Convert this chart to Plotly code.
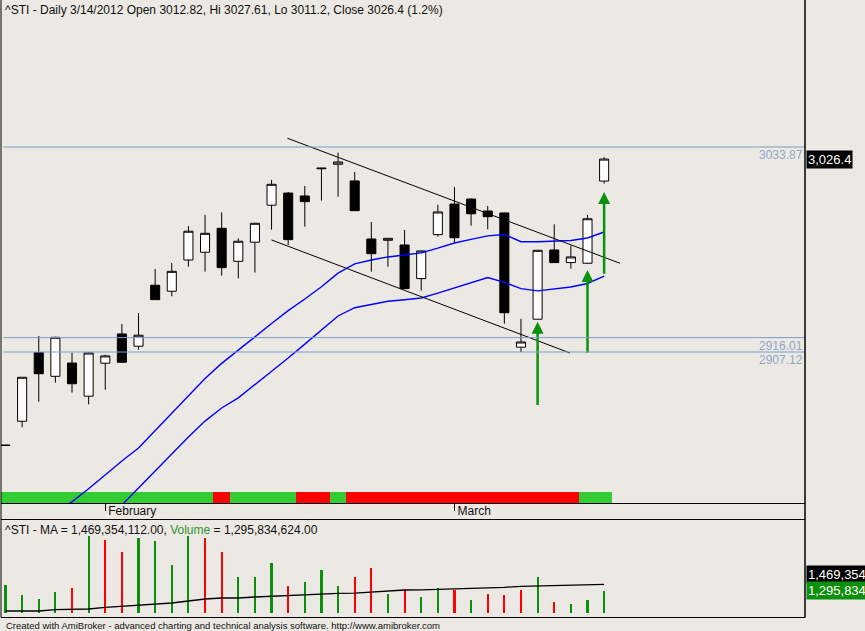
import plotly.graph_objects as go

# ---- data ----
days = list(range(37))
month_ticks = [6, 27]
month_labels = ["February", "March"]

opens = [2849.3, 2864.3, 2906.7, 2892.1, 2900.3, 2879.8, 2900.2, 2918.3, 2910.7, 2948.4,
         2944.7, 2964.0, 2968.8, 2983.6, 2963.2, 2975.0, 2997.9, 3005.4, 3003.6, 3020.9,
         3023.2, 3012.9, 2977.0, 2976.2, 2973.3, 2952.5, 2979.7, 2998.6, 3001.7, 2994.3,
         2993.1, 2910.1, 2927.4, 2970.2, 2962.4, 2962.0, 3012.82]
highs = [2849.6, 2891.5, 2917.0, 2916.5, 2906.7, 2906.8, 2905.5, 2924.4, 2931.3, 2958.4,
         2962.2, 2985.0, 2991.9, 2993.5, 2977.4, 2987.0, 3013.5, 3006.0, 3009.8, 3021.0,
         3030.4, 3018.4, 2987.5, 2977.6, 2982.6, 2970.0, 2998.2, 3009.1, 3002.0, 2997.4,
         2993.5, 2927.6, 2970.2, 2986.1, 2972.9, 2991.9, 3027.61]
lows = [2849.2, 2860.6, 2876.4, 2888.2, 2882.0, 2874.8, 2883.8, 2900.5, 2908.6, 2939.3,
        2941.6, 2959.9, 2956.8, 2954.3, 2952.7, 2956.2, 2982.8, 2973.3, 2984.6, 3000.7,
        3003.1, 2994.3, 2956.8, 2959.9, 2946.0, 2945.1, 2978.4, 2974.7, 2985.2, 2983.0,
        2924.6, 2907.12, 2927.2, 2962.2, 2958.6, 2961.8, 3011.2]
closes = [2849.5, 2891.5, 2893.7, 2916.2, 2887.5, 2906.5, 2904.7, 2900.8, 2917.5, 2939.5,
          2957.0, 2981.8, 2980.5, 2959.3, 2975.6, 2986.7, 3010.8, 2976.6, 3000.1, 3020.5,
          3024.6, 2994.5, 2967.9, 2977.4, 2946.3, 2969.6, 2993.7, 2977.8, 2992.6, 2990.8,
          2931.4, 2913.3, 2970.0, 2962.4, 2965.9, 2989.5, 3026.4]

ma_fast = [None, None, None, 2809.0, 2814.5, 2822.6, 2831.4, 2839.7, 2847.8, 2858.4,
           2869.1, 2879.8, 2890.7, 2900.1, 2908.1, 2916.5, 2924.7, 2932.7, 2939.9, 2947.5,
           2955.9, 2961.6, 2964.0, 2965.9, 2967.1, 2968.4, 2971.3, 2974.5, 2976.8, 2978.9,
           2979.8, 2975.3, 2975.3, 2975.8, 2976.1, 2977.6, 2981.3]
ma_slow = [None, None, None, None, None, None, 2800.0, 2812.5, 2823.1, 2833.6,
           2844.3, 2854.6, 2864.4, 2872.5, 2878.8, 2886.9, 2895.2, 2903.4, 2912.0, 2920.9,
           2929.4, 2934.5, 2936.7, 2938.5, 2939.4, 2940.5, 2943.5, 2946.7, 2949.9, 2953.2,
           2950.2, 2946.3, 2944.9, 2946.1, 2947.3, 2949.5, 2954.1]

trend_upper_x = [16.95, 36.95]
trend_upper_y = [3039.3, 2962.0]
trend_lower_x = [16.0, 33.95]
trend_lower_y = [2976.4, 2906.5]

levels = [3033.87, 2916.01, 2907.12]

signal_days = [32, 35, 36]
signal_tip = [2925.9, 2957.8, 3006.0]
signal_tail = [2874.4, 2906.7, 2955.5]

# 1 = green, 0 = red
ribbon_state = [1] * 13 + [0] + [1] * 4 + [0, 0] + [1] + [0] * 14 + [1, 1]

volume_m = [1478, 1144, 1052, 1265, 1357, 2970, 2848, 2483, 2909, 2818,
            2087, 2970, 2909, 2483, 1692, 1692, 2127, 1448, 1548, 1935,
            1448, 1722, 1966, 1204, 1296, 1083, 1387, 1317, 1022, 1204,
            1144, 1296, 1692, 961, 870, 1022, 1295.834624]
volume_ma_m = [656.6, 656.6, 656.6, 696.2, 696.2, 717.5, 769.2, 799.6, 839.2, 869.7,
               900.1, 961.0, 1021.9, 1052.3, 1052.3, 1082.7, 1104.1, 1143.6, 1145.0, 1164.9,
               1195.4, 1200.0, 1235.0, 1265.4, 1295.8, 1300.0, 1317.1, 1320.0, 1347.6, 1350.0,
               1378.0, 1408.5, 1417.6, 1438.9, 1442.0, 1465.0, 1469.354112]

volume = [v * 1e6 for v in volume_m]
volume_ma = [v * 1e6 for v in volume_ma_m]

# ---- styles ----
BG = "#ECE9E4"
GREEN = "#0A900A"
RIBBON_GREEN = "#33CC33"
RED = "#FF0000"
LEVEL = "#7B9CC9"
FONT = "Liberation Sans, Arial, sans-serif"

vol_colors = [GREEN] + [GREEN if closes[i] >= closes[i - 1] else RED for i in range(1, len(closes))]

fig = go.Figure()

# colour ribbon at the bottom of the price pane
fig.add_trace(go.Bar(
    x=days, y=[1] * len(days), width=1,
    marker=dict(color=[RIBBON_GREEN if s else RED for s in ribbon_state], line=dict(width=0)),
    xaxis="x", yaxis="y", showlegend=False, hoverinfo="skip",
))

fig.add_trace(go.Candlestick(
    x=days, open=opens, high=highs, low=lows, close=closes,
    increasing=dict(fillcolor="white", line=dict(color="black", width=1)),
    decreasing=dict(fillcolor="black", line=dict(color="black", width=1)),
    whiskerwidth=0,
    xaxis="x", yaxis="y2", showlegend=False, hoverinfo="skip",
))

for ma in (ma_fast, ma_slow):
    fig.add_trace(go.Scatter(
        x=days, y=ma, mode="lines", line=dict(color="#0000FF", width=1.4),
        xaxis="x", yaxis="y2", showlegend=False, hoverinfo="skip",
    ))

for tx, ty in ((trend_upper_x, trend_upper_y), (trend_lower_x, trend_lower_y)):
    fig.add_trace(go.Scatter(
        x=tx, y=ty, mode="lines", line=dict(color="black", width=1),
        xaxis="x", yaxis="y2", showlegend=False, hoverinfo="skip",
    ))

# green up arrows
shaft_x, shaft_y = [], []
for d, top, tail in zip(signal_days, signal_tip, signal_tail):
    shaft_x += [d, d, None]
    shaft_y += [top - 4, tail, None]
fig.add_trace(go.Scatter(
    x=shaft_x, y=shaft_y, mode="lines", line=dict(color=GREEN, width=2.5),
    xaxis="x", yaxis="y2", showlegend=False, hoverinfo="skip",
))
fig.add_trace(go.Scatter(
    x=signal_days, y=signal_tip, mode="markers",
    marker=dict(symbol="arrow-up", size=12, color=GREEN, line=dict(width=0)),
    xaxis="x", yaxis="y2", showlegend=False, hoverinfo="skip",
))

# volume pane
fig.add_trace(go.Bar(
    x=days, y=volume, width=0.13, marker=dict(color=vol_colors, line=dict(width=0)),
    xaxis="x2", yaxis="y3", showlegend=False, hoverinfo="skip",
))
fig.add_trace(go.Scatter(
    x=days, y=volume_ma, mode="lines", line=dict(color="black", width=1.3),
    xaxis="x2", yaxis="y3", showlegend=False, hoverinfo="skip",
))

H = 618.0  # plot area height in px
def py(px):
    return (H - px) / H

xrange_ = [-0.27, 48.08]
price_range = [2813.76, 3124.76]
vol_range = [595.7e6, 3441.9e6]

shapes = []
for lv in levels:
    shapes.append(dict(type="line", xref="paper", x0=0.003, x1=1, yref="y2", y0=lv, y1=lv,
                       line=dict(color=LEVEL, width=1), layer="above"))
# pane frames
shapes.append(dict(type="line", xref="paper", yref="paper", x0=0, x1=0, y0=py(617.5), y1=1,
                   line=dict(color="black", width=1)))
shapes.append(dict(type="line", xref="paper", yref="paper", x0=1, x1=1, y0=py(617.5), y1=1,
                   line=dict(color="black", width=1.5)))
shapes.append(dict(type="line", xref="paper", yref="paper", x0=0, x1=1, y0=py(519.5), y1=py(519.5),
                   line=dict(color="black", width=1)))
shapes.append(dict(type="line", xref="paper", yref="paper", x0=0, x1=1, y0=py(617.5), y1=py(617.5),
                   line=dict(color="black", width=1)))

annotations = [
    dict(xref="paper", yref="paper", x=0, y=1, xanchor="left", yanchor="top", xshift=2, yshift=-1,
         showarrow=False, font=dict(size=12, color="#101010"),
         text="^STI - Daily 3/14/2012 Open {}, Hi {}, Lo {}, Close {} (1.2%)".format(
             opens[-1], highs[-1], lows[-1], closes[-1])),
    dict(xref="paper", yref="paper", x=0, y=py(519.5), xanchor="left", yanchor="top", xshift=2, yshift=-1,
         showarrow=False, font=dict(size=12, color="#101010"),
         text="^STI - MA = {:,.2f}, <span style='color:#2E962E'>Volume</span> = {:,.2f}".format(
             volume_ma[-1], volume[-1])),
    dict(xref="paper", yref="paper", x=0, y=py(625), xanchor="left", yanchor="middle", xshift=3,
         showarrow=False, font=dict(size=9.5, color="#101010"),
         text="Created with AmiBroker - advanced charting and technical analysis software. http://www.amibroker.com"),
    dict(xref="paper", yref="y2", x=1, y=closes[-1], xanchor="left", yanchor="middle", xshift=1,
         showarrow=False, bgcolor="black", borderpad=1, font=dict(size=13, color="white"),
         text="{:,.1f}".format(closes[-1])),
    dict(xref="paper", yref="y3", x=1, y=volume_ma[-1], xanchor="left", yanchor="middle", xshift=1, yshift=10,
         showarrow=False, bgcolor="black", borderpad=1, font=dict(size=13, color="white"),
         text="{:,.0f}".format(volume_ma[-1])),
    dict(xref="paper", yref="y3", x=1, y=volume[-1], xanchor="left", yanchor="middle", xshift=1,
         showarrow=False, bgcolor=GREEN, borderpad=1, font=dict(size=13, color="white"),
         text="{:,.0f}".format(volume[-1])),
]
for lv in levels:
    annotations.append(dict(xref="paper", yref="y2", x=1, y=lv, xanchor="right", yanchor="top",
                            xshift=-1, showarrow=False, borderpad=0,
                            font=dict(size=12, color="#8FA6C8"), text="{:.2f}".format(lv)))

fig.update_layout(
    width=865, height=631,
    margin=dict(l=1, r=60, t=0, b=13),
    paper_bgcolor=BG, plot_bgcolor=BG,
    font=dict(family=FONT, size=12, color="black"),
    showlegend=False, dragmode=False, bargap=0, boxgap=0.22,
    xaxis=dict(range=xrange_, anchor="y", showgrid=False, zeroline=False,
               showline=True, linecolor="black", linewidth=1,
               tickmode="array", tickvals=month_ticks, ticktext=month_labels,
               ticks="outside", ticklen=7, tickcolor="black", tickwidth=1,
               ticklabelposition="outside right", ticklabelstandoff=-3, ticklabelshift=2,
               tickfont=dict(size=12, color="#101010"),
               rangeslider=dict(visible=False), fixedrange=True),
    yaxis=dict(domain=[py(503), 1], range=[0, 503 / 11.0], visible=False, fixedrange=True),
    yaxis2=dict(overlaying="y", range=price_range, visible=False, fixedrange=True),
    xaxis2=dict(matches="x", anchor="y3", visible=False, fixedrange=True),
    yaxis3=dict(domain=[py(613), py(519.5)], range=vol_range, anchor="x2", visible=False, fixedrange=True),
    shapes=shapes,
    annotations=annotations,
)

fig.write_html("out.html", config={"displayModeBar": False},
               post_script="document.body.style.margin='0';document.body.style.overflow='hidden';")
